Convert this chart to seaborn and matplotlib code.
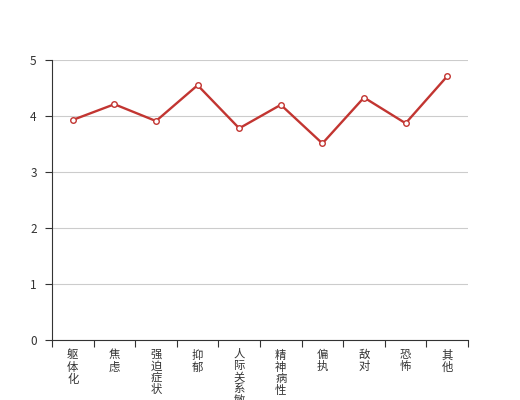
import matplotlib
matplotlib.use("Agg")
import matplotlib.pyplot as plt
import seaborn as sns
import pandas as pd
import numpy as np

categories = ["躯体化", "焦虑", "强迫症状", "抑郁", "人际关系敏感", "精神病性", "偏执", "敌对", "恐怖", "其他"]
values = [3.93, 4.21, 3.91, 4.55, 3.78, 4.20, 3.51, 4.33, 3.87, 4.71]
y_ticks = [0, 1, 2, 3, 4, 5]

sns.set_style("white")
plt.rcParams['font.family'] = ['Noto Sans CJK SC', 'DejaVu Sans']

df = pd.DataFrame({"cat": categories, "val": values})
df["pos"] = np.arange(len(categories))

fig = plt.figure(figsize=(5.2, 4.0), dpi=100)
ax = fig.add_axes([52/520, 60/400, 416/520, 280/400])

sns.lineplot(data=df, x="pos", y="val", ax=ax, color="#c23531", linewidth=1.7,
             marker="o", markersize=4, markerfacecolor="white",
             markeredgecolor="#c23531", markeredgewidth=1.0, zorder=3)

ax.set_xlim(-0.5, len(categories) - 0.5)
ax.set_ylim(0, 5)
ax.set_yticks(y_ticks)
ax.set_yticklabels([str(t) for t in y_ticks], color="#333333", fontsize=8.5)
ax.yaxis.grid(True, color="#cccccc", linewidth=0.8)
ax.set_axisbelow(True)

# boundary ticks (major) without labels, labels at centres (minor)
ax.set_xticks(np.arange(len(categories) + 1) - 0.5)
ax.set_xticklabels([])
ax.set_xticks(np.arange(len(categories)), minor=True)
ax.set_xticklabels(["\n".join(c) for c in categories], minor=True,
                   color="#333333", fontsize=8.2, linespacing=1.12, va="top")
ax.tick_params(axis="x", which="major", length=5, width=0.8, color="#333333", direction="out", bottom=True)
ax.tick_params(axis="x", which="minor", length=0, pad=7)
ax.tick_params(axis="y", length=5, width=0.8, color="#333333", direction="out", left=True, pad=6)

for s in ["top", "right"]:
    ax.spines[s].set_visible(False)
for s in ["left", "bottom"]:
    ax.spines[s].set_color("#333333")
    ax.spines[s].set_linewidth(0.8)

ax.set_xlabel("")
ax.set_ylabel("")

fig.savefig("out.png", dpi=100)
